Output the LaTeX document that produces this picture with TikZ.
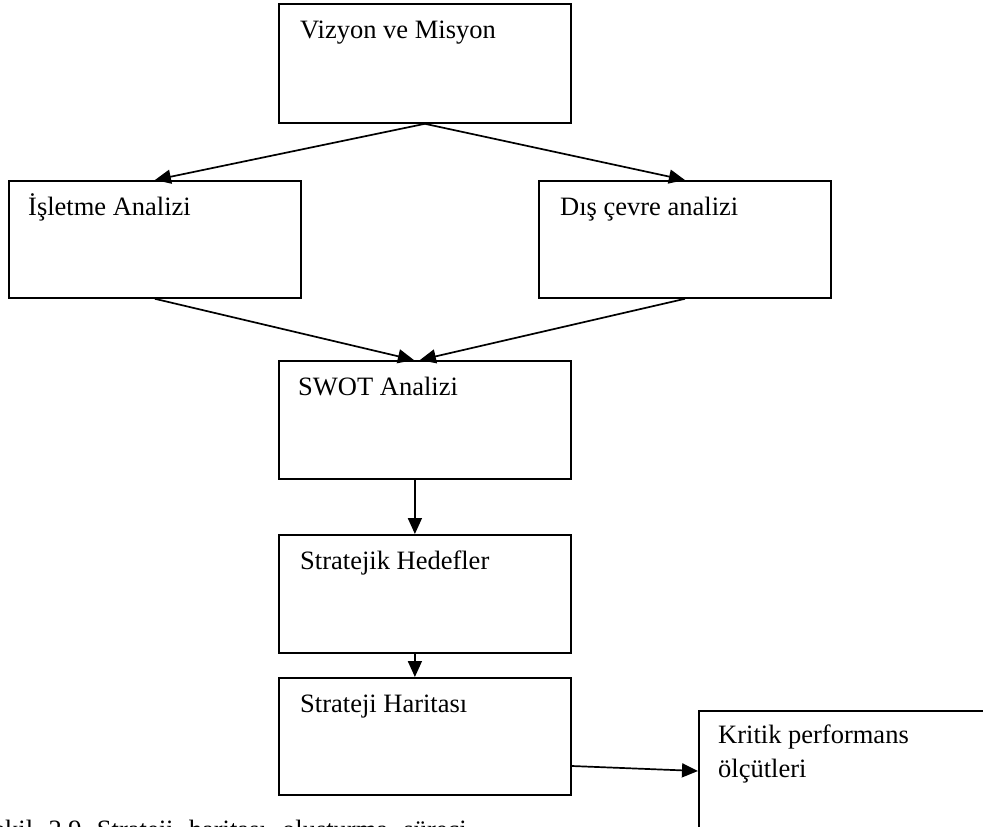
\documentclass[tikz,border=0pt]{standalone}
\usepackage{fontspec}
\setmainfont{Liberation Serif}
\usetikzlibrary{arrows.meta,calc}

\tikzset{
  box/.style={draw=black, line width=1.8pt, anchor=north west, inner sep=0pt, fill=white},
  lbl/.style={anchor=base west, inner sep=0pt, font=\fontsize{26.5}{34}\selectfont},
  flow/.style={line width=1.7pt, -{Triangle[length=16pt,width=14pt]}}
}

\begin{document}
\begin{tikzpicture}[x=1pt, y=-1pt]
  \useasboundingbox (0,0) rectangle (983,827);
  \begin{scope}
    \clip (0,0) rectangle (983,827);

    % process boxes
    \node[box, minimum width=292pt, minimum height=119pt] (viz) at (278,3) {};
    \node[box, minimum width=292pt, minimum height=117pt] (isl) at (8,180) {};
    \node[box, minimum width=292pt, minimum height=117pt] (dis) at (538,180) {};
    \node[box, minimum width=292pt, minimum height=118pt] (swot) at (278,360) {};
    \node[box, minimum width=292pt, minimum height=118pt] (hed) at (278,534) {};
    \node[box, minimum width=292pt, minimum height=117pt] (har) at (278,677) {};
    \node[box, minimum width=330pt, minimum height=160pt] (kri) at (698,710) {};

    % box texts
    \node[lbl] (vizt) at ($(viz.north west)+(22,35)$) {Vizyon ve Misyon};
    \node[lbl] (islt) at ($(isl.north west)+(20,35)$) {İşletme Analizi};
    \node[lbl] (dist) at ($(dis.north west)+(22,35)$) {Dış çevre analizi};
    \node[lbl] (swott) at ($(swot.north west)+(20,35)$) {SWOT Analizi};
    \node[lbl] (hedt) at ($(hed.north west)+(22,35)$) {Stratejik Hedefler};
    \node[lbl] (hart) at ($(har.north west)+(22,35)$) {Strateji Haritası};
    \node[lbl] (krit1) at ($(kri.north west)+(20,33)$) {Kritik performans};
    \node[lbl] (krit2) at ($(kri.north west)+(20,67)$) {ölçütleri};

    % connectors
    \coordinate (swotinl) at ($(swot.north)+(-11,0)$);
    \coordinate (swotinr) at ($(swot.north)+(-5,0)$);
    \coordinate (swotout) at ($(swot.south)+(-10,0)$);
    \coordinate (hedin) at ($(hed.north)+(-10,0)$);
    \coordinate (hedout) at ($(hed.south)+(-10,0)$);
    \coordinate (harin) at ($(har.north)+(-10,0)$);
    \coordinate (harout) at ($(har.north east)+(0,89)$);
    \coordinate (kriin) at ($(kri.north west)+(0,61)$);

    \draw[flow] (viz.south) -- (isl.north);
    \draw[flow] (viz.south) -- (dis.north);
    \draw[flow] (isl.south) -- (swotinl);
    \draw[flow] (dis.south) -- (swotinr);
    \draw[flow] (swotout) -- (hedin);
    \draw[flow] (hedout) -- (harin);
    \draw[flow] (harout) -- (kriin);

    % caption, running past the lower edge
    \node[lbl] (cap) at (-21.5,838) {\makebox[488pt][s]{Şekil 2.9 Strateji haritası oluşturma süreci}};
  \end{scope}
\end{tikzpicture}
\end{document}
